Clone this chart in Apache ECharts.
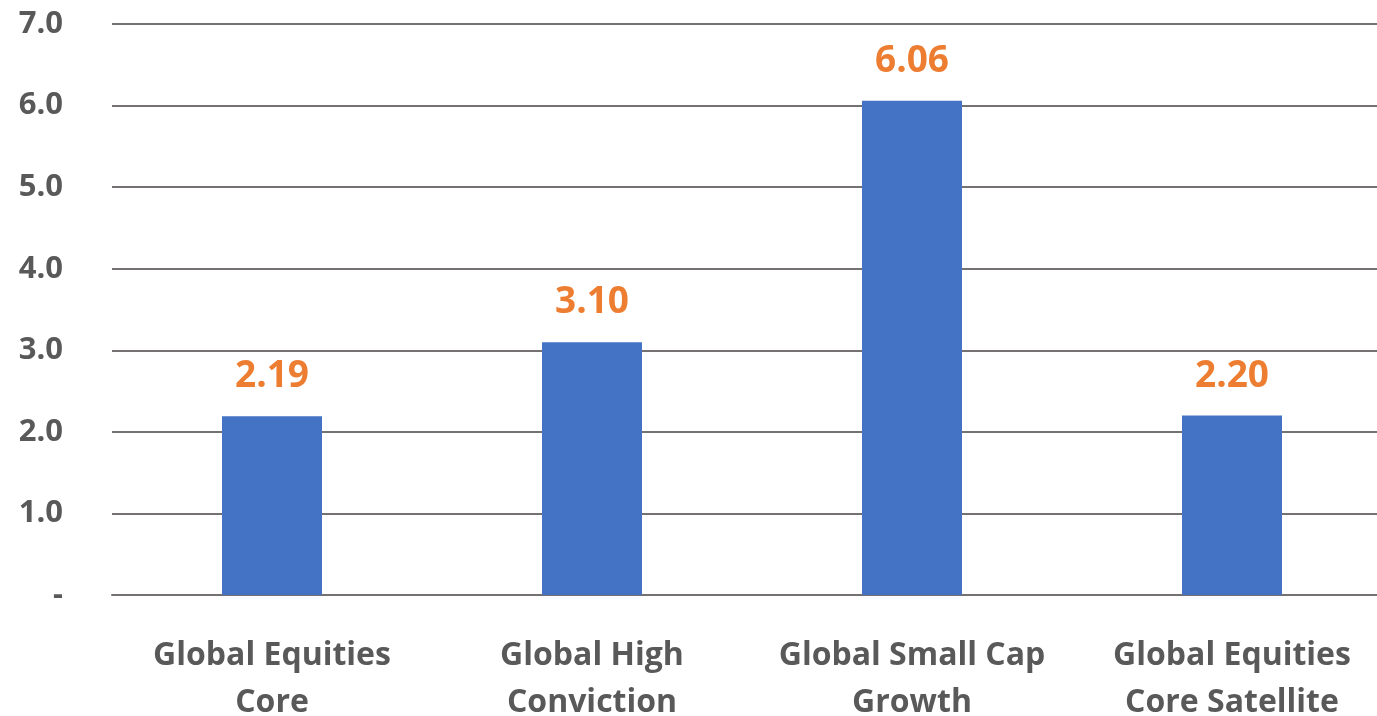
<!DOCTYPE html>
<html>
<head>
<meta charset="utf-8">
<style>
  html, body { margin: 0; padding: 0; background: #ffffff; }
  #chart { width: 1377px; height: 716px; }
</style>
<script src="https://cdn.jsdelivr.net/npm/echarts@6/dist/echarts.min.js"></script>
</head>
<body>
<div id="chart"></div>
<script>
const categories = [
  'Global Equities\nCore',
  'Global High\nConviction',
  'Global Small Cap\nGrowth',
  'Global Equities\nCore Satellite'
];
const values = [2.19, 3.10, 6.06, 2.20];
const yMin = 0;
const yMax = 7;
const yStep = 1;

const FONT = '"Open Sans", Lato, sans-serif';
const chart = echarts.init(document.getElementById('chart'));

chart.setOption({
  animation: false,
  grid: {
    left: 112, width: 1280, top: 24, bottom: 121,
    containLabel: false,
    outerBoundsMode: 'none'
  },
  xAxis: {
    type: 'category',
    data: categories,
    axisLine: { show: true, lineStyle: { color: '#767171', width: 2 } },
    axisTick: { show: false },
    axisLabel: {
      interval: 0,
      hideOverlap: false,
      color: '#595959',
      fontFamily: FONT,
      fontWeight: 'bold',
      fontSize: 32,
      lineHeight: 47,
      margin: 37
    }
  },
  yAxis: {
    type: 'value',
    min: yMin,
    max: yMax,
    interval: yStep,
    axisLine: { show: false },
    axisTick: { show: false },
    splitLine: { lineStyle: { color: '#767171', width: 2 } },
    axisLabel: {
      color: '#595959',
      fontFamily: FONT,
      fontWeight: 'bold',
      fontSize: 31,
      margin: 49,
      formatter: v => (v === 0 ? '-' : v.toFixed(1))
    }
  },
  series: [{
    type: 'bar',
    data: values,
    barWidth: 100,
    itemStyle: { color: '#4472C4' },
    label: {
      show: true,
      position: 'top',
      distance: 21,
      color: '#ED7D31',
      fontFamily: FONT,
      fontWeight: 'bold',
      fontSize: 37,
      formatter: p => p.value.toFixed(2)
    }
  }]
});
</script>
</body>
</html>
